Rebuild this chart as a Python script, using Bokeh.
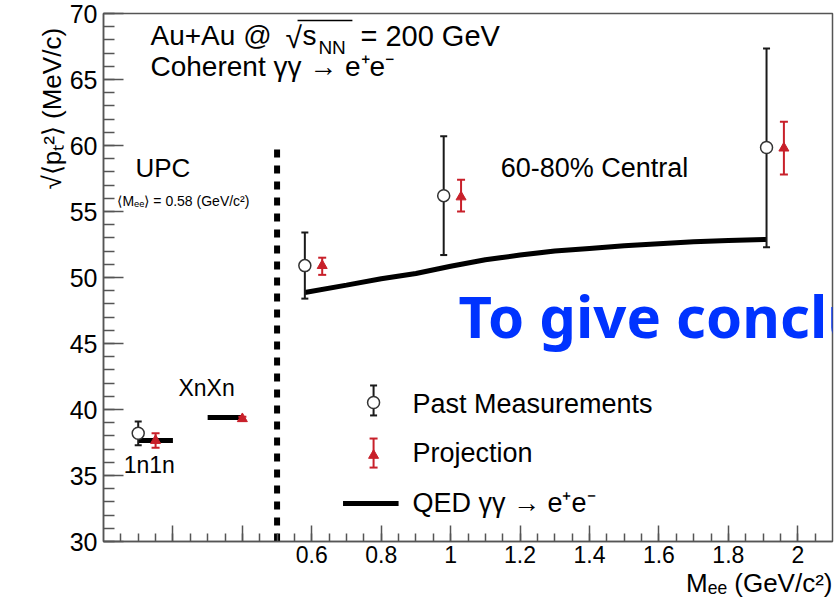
import numpy as np
from bokeh.plotting import figure
from bokeh.models import FixedTicker, Label, Range1d, Title
from bokeh.core.properties import value
from bokeh.embed import file_html
from bokeh.resources import INLINE

# ---------------- data ----------------
# UPC (left of divider)
upc_past_x = [0.10]
upc_past_y = [38.2]
upc_past_lo = [37.3]
upc_past_hi = [39.1]

upc_proj_x = [0.15, 0.40]
upc_proj_y = [37.65, 39.3]
upc_proj_lo = [37.1, 39.15]
upc_proj_hi = [38.2, 39.45]

upc_qed_x0 = [0.10, 0.30]
upc_qed_x1 = [0.20, 0.40]
upc_qed_y = [37.65, 39.4]

# 60-80% central
past_x = [0.58, 0.98, 1.91]
past_y = [50.9, 56.2, 59.85]
past_lo = [48.4, 51.7, 52.3]
past_hi = [53.4, 60.7, 67.35]

proj_x = [0.63, 1.03, 1.96]
proj_y = [50.9, 56.1, 59.8]
proj_lo = [50.2, 55.0, 57.8]
proj_hi = [51.5, 57.4, 61.8]

qed_x = [0.58, 0.70, 0.80, 0.90, 1.00, 1.10, 1.20, 1.30, 1.40, 1.50, 1.60, 1.70, 1.80, 1.91]
qed_y = [48.86, 49.42, 49.9, 50.3, 50.85, 51.35, 51.7, 52.0, 52.2, 52.4, 52.55, 52.7, 52.8, 52.88]

divider_x = 0.5
divider_top = 60.0

xtick_values = [0.2, 0.4, 0.6, 0.8, 1.0, 1.2, 1.4, 1.6, 1.8, 2.0]
xtick_labels = ["", "", "0.6", "0.8", "1", "1.2", "1.4", "1.6", "1.8", "2"]
ytick_values = [30, 35, 40, 45, 50, 55, 60, 65, 70]

legend_labels = ["Past Measurements", "Projection", "QED \u03b3\u03b3 \u2192 e\u207ae\u207b"]
x_title = "M\u2091\u2091 (GeV/c\u00b2)"
y_title = "\u221a\u27e8p\u209c\u00b2\u27e9   (MeV/c)"

RED = "#c8202a"
BLK = "#1a1a1a"
AXC = "#555555"
FONT = "Liberation Sans"

# ---------------- figure ----------------
p = figure(width=838, height=606, x_range=Range1d(0, 2.1), y_range=Range1d(30, 70),
           output_backend="svg", toolbar_location=None,
           min_border_left=103, min_border_right=6, min_border_top=13, min_border_bottom=65)
p.grid.visible = False
p.outline_line_color = AXC
p.outline_line_width = 1.5
p.background_fill_color = "white"
p.border_fill_color = "white"

p.xaxis.ticker = FixedTicker(ticks=xtick_values,
                             minor_ticks=list(np.round(np.arange(0.05, 2.1, 0.05), 2)))
p.xaxis.major_label_overrides = dict(zip(xtick_values, xtick_labels))
p.yaxis.ticker = FixedTicker(ticks=ytick_values, minor_ticks=list(range(30, 71)))

for ax in (p.xaxis[0], p.yaxis[0]):
    ax.axis_line_color = AXC
    ax.axis_line_width = 1.5
    ax.major_tick_line_color = AXC
    ax.minor_tick_line_color = AXC
    ax.major_tick_line_width = 1.5
    ax.minor_tick_line_width = 1.5
    ax.major_tick_out = 0
    ax.minor_tick_out = 0
    ax.major_label_text_font = FONT
    ax.major_label_text_color = "black"

p.xaxis.major_tick_in = 16
p.xaxis.minor_tick_in = 8
p.xaxis.major_label_text_font_size = "23px"
p.xaxis.major_label_standoff = 4
p.yaxis.major_tick_in = 20
p.yaxis.minor_tick_in = 11
p.yaxis.major_label_text_font_size = "25px"
p.yaxis.major_label_standoff = 6

# axis titles
p.add_layout(Title(text=x_title, align="right", text_font=FONT, text_font_size="26px",
                   text_font_style="normal", text_color="black", standoff=0, offset=0), "below")
p.add_layout(Title(text=y_title, align="right", text_font=FONT, text_font_size="26px",
                   text_font_style="normal", text_color="black", standoff=0, offset=0), "left")

# ---------------- marks ----------------
p.segment(x0=[divider_x], y0=[30], x1=[divider_x], y1=[divider_top],
          line_width=6, line_dash="8 8", color="black")

p.line(qed_x, qed_y, line_width=5, color="black")
p.segment(x0=upc_qed_x0, y0=upc_qed_y, x1=upc_qed_x1, y1=upc_qed_y, line_width=5, color="black")


def past_points(xs, ys, lo, hi):
    p.segment(x0=xs, y0=lo, x1=xs, y1=hi, line_width=2, color=BLK)
    p.scatter(xs + xs, lo + hi, marker="dash", size=7, line_width=2, color=BLK)
    p.scatter(xs, ys, marker="circle", size=12, fill_color="white", line_color="#333333",
              line_width=1.5)


def proj_points(xs, ys, lo, hi):
    p.segment(x0=xs, y0=lo, x1=xs, y1=hi, line_width=2, color=RED)
    p.scatter(xs + xs, lo + hi, marker="dash", size=8, line_width=2, color=RED)
    p.scatter(xs, ys, marker="triangle", size=10, color=RED)


past_points(past_x, past_y, past_lo, past_hi)
past_points(upc_past_x, upc_past_y, upc_past_lo, upc_past_hi)
proj_points(proj_x, proj_y, proj_lo, proj_hi)
proj_points(upc_proj_x, upc_proj_y, upc_proj_lo, upc_proj_hi)

# legend (manual, ROOT style)
lx, tx = 0.778, 0.89
past_points([lx], [40.53], [39.55], [41.82])
proj_points([lx], [36.52], [35.6], [37.8])
p.segment(x0=[0.69], y0=[32.88], x1=[0.85], y1=[32.88], line_width=5, color="black")
for yy, txt in zip([40.45, 36.67, 32.95], legend_labels):
    p.add_layout(Label(x=tx, y=yy, text=txt, text_font=FONT, text_font_size="27px",
                       text_baseline="middle", text_color="black"))


def lab(x, y, text, size, **kw):
    kw.setdefault("text_baseline", "middle")
    p.add_layout(Label(x=x, y=y, text=text, text_font=FONT, text_font_size=size,
                       text_color="black", **kw))


# header
lab(0.1354, 68.33, "Au+Au @", "28px")
lab(0.524, 68.2, "\u221a", "30px")
lab(0.573, 68.33, "s", "28px")
lab(0.619, 67.39, "NN", "19px")
lab(0.740, 68.33, "= 200 GeV", "29px")
p.segment(x0=[0.559], y0=[69.47], x1=[0.717], y1=[69.47], line_width=1.5, color="black")
lab(0.1354, 65.98, "Coherent \u03b3\u03b3 \u2192 e\u207ae\u207b", "28px")

# region texts
lab(0.092, 58.3, "UPC", "26px")
lab(0.040, 55.76, "\u27e8M\u2091\u2091\u27e9 = 0.58 (GeV/c\u00b2)", "14px")
lab(0.216, 41.63, "XnXn", "23px")
lab(0.058, 35.76, "1n1n", "23px")
lab(1.144, 58.3, "60-80% Central", "27px")

# overlay text
p.text(x=[1.0228], y=[47.1], text=["To give conclu"], text_font=value("Noto Sans"),
       text_font_size="58px", text_font_style="bold", text_color="#0033ff",
       text_baseline="middle")

open("out.html", "w").write(file_html(p, INLINE))
